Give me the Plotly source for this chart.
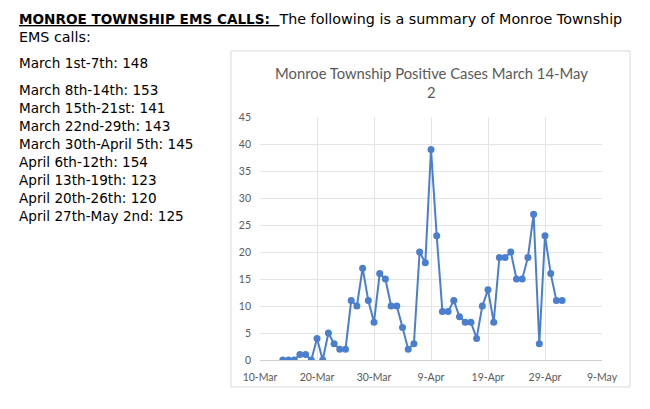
import plotly.graph_objects as go
import pandas as pd

# Data
dates = pd.date_range("2020-03-14", "2020-05-02", freq="D")
cases = [0, 0, 0, 1, 1, 0, 4, 0, 5, 3, 2, 2, 11, 10, 17, 11, 7, 16, 15, 10,
         10, 6, 2, 3, 20, 18, 39, 23, 9, 9, 11, 8, 7, 7, 4, 10, 13, 7, 19, 19,
         20, 15, 15, 19, 27, 3, 23, 16, 11, 11]
ems_periods = ["March 1st-7th", "March 8th-14th", "March 15th-21st", "March 22nd-29th",
               "March 30th-April 5th", "April 6th-12th", "April 13th-19th",
               "April 20th-26th", "April 27th-May 2nd"]
ems_calls = [148, 153, 141, 143, 145, 154, 123, 120, 125]

W, H = 650, 409
L, R, T, B = 260, 602, 117, 360  # plot area in pixels


def px(x):
    return (x - L) / (R - L)


def py(y):
    return (B - y) / (B - T)


fig = go.Figure()
fig.add_trace(go.Scatter(
    x=dates, y=cases, mode="lines+markers",
    line=dict(color="#4a7fd0", width=2),
    marker=dict(color="#4a7fd0", size=7),
    showlegend=False,
))

gray = "#595959"
tickfont = dict(family="Lato, sans-serif", size=10.5, color=gray)
fig.update_layout(
    width=W, height=H,
    margin=dict(l=L, r=W - R, t=T, b=H - B),
    paper_bgcolor="white", plot_bgcolor="white",
    xaxis=dict(
        range=["2020-03-10", "2020-05-09"],
        tick0="2020-03-10", dtick=10 * 86400000,
        tickformat="%-d-%b",
        showgrid=True, gridcolor="#e4e4e4", gridwidth=1,
        showline=True, linecolor="#d0d0d0", linewidth=1,
        zeroline=False, ticks="", tickfont=tickfont,
        ticklabelstandoff=7,
        fixedrange=True,
    ),
    yaxis=dict(
        range=[0, 45], dtick=5, tick0=0,
        showgrid=True, gridcolor="#e4e4e4", gridwidth=1,
        zeroline=False, showline=False, ticks="", tickfont=tickfont,
        ticklabelstandoff=8,
        fixedrange=True,
    ),
)

# chart border box
fig.add_shape(type="rect", xref="paper", yref="paper",
              x0=px(231), x1=px(630), y0=py(387), y1=py(51),
              line=dict(color="#d9d9d9", width=1), layer="below")

# chart title
for txt, yy in [("Monroe Township Positive Cases March 14-May", 73), ("2", 92)]:
    fig.add_annotation(text=txt, xref="paper", yref="paper",
                       x=px(431), y=py(yy), xanchor="center", yanchor="middle",
                       showarrow=False,
                       font=dict(family="Lato, sans-serif", size=14.8, color=gray))

# left text
tf = dict(family="DejaVu Sans, Verdana, sans-serif", size=13.6, color="black")
fig.add_annotation(
    text="<b><u>MONROE TOWNSHIP EMS CALLS:\u00a0\u00a0</u></b>"
         "<span style='font-size:14.3px'>The following is a summary of Monroe Township</span>",
    xref="paper", yref="paper", x=px(17), y=py(19), xanchor="left", yanchor="middle",
    showarrow=False, font=tf)
fig.add_annotation(text="EMS calls:", xref="paper", yref="paper", x=px(17), y=py(37),
                   xanchor="left", yanchor="middle", showarrow=False,
                   font=dict(family=tf["family"], size=14.3, color="black"))
ys = [63, 90, 108, 126, 144, 162, 180, 198, 216]
for per, val, yy in zip(ems_periods, ems_calls, ys):
    fig.add_annotation(text=f"{per}: {val}", xref="paper", yref="paper",
                       x=px(17), y=py(yy), xanchor="left", yanchor="middle",
                       showarrow=False, font=tf)

fig.write_html("out.html")
